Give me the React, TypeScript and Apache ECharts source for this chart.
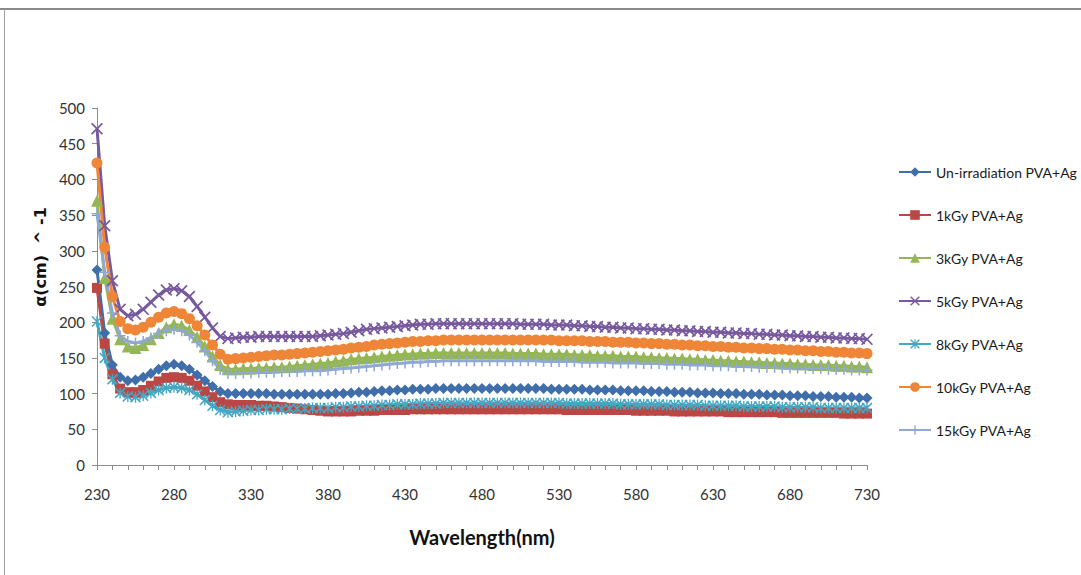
import React, { useEffect, useRef } from "react";
import * as echarts from "echarts";

const wavelengths = [
  230, 235, 240, 245, 250, 255, 260, 265, 270, 275,
  280, 285, 290, 295, 300, 305, 310, 315, 320, 325,
  330, 335, 340, 345, 350, 355, 360, 365, 370, 375,
  380, 385, 390, 395, 400, 405, 410, 415, 420, 425,
  430, 435, 440, 445, 450, 455, 460, 465, 470, 475,
  480, 485, 490, 495, 500, 505, 510, 515, 520, 525,
  530, 535, 540, 545, 550, 555, 560, 565, 570, 575,
  580, 585, 590, 595, 600, 605, 610, 615, 620, 625,
  630, 635, 640, 645, 650, 655, 660, 665, 670, 675,
  680, 685, 690, 695, 700, 705, 710, 715, 720, 725,
  730,
];

const unIrradiation = [
  273, 185, 140, 123, 118, 119, 123, 128, 134, 139,
  141, 139, 134, 126, 118, 110, 103, 100, 100, 100,
  100, 100, 100, 99, 99, 99, 99, 99, 99, 99,
  99, 100, 100, 101, 102, 102, 103, 104, 104, 105,
  105, 106, 106, 106, 107, 107, 107, 107, 107, 107,
  107, 107, 107, 107, 107, 107, 107, 107, 107, 106,
  106, 106, 106, 106, 105, 105, 105, 105, 104, 104,
  104, 104, 103, 103, 103, 102, 102, 102, 101, 101,
  101, 100, 100, 100, 99, 99, 99, 98, 98, 98,
  97, 97, 97, 96, 96, 96, 95, 95, 95, 94,
  94,
];

const kGy1 = [
  248, 170, 127, 107, 102, 102, 105, 111, 117, 122,
  123, 122, 118, 111, 103, 95, 88, 85, 84, 84,
  84, 83, 83, 82, 81, 80, 79, 78, 77, 76,
  75, 75, 75, 75, 76, 76, 76, 77, 77, 77,
  77, 78, 78, 78, 78, 78, 78, 78, 78, 78,
  78, 78, 78, 78, 78, 78, 78, 78, 78, 78,
  78, 77, 77, 77, 77, 77, 77, 77, 77, 77,
  76, 76, 76, 76, 76, 75, 75, 75, 75, 75,
  75, 75, 74, 74, 74, 74, 74, 74, 74, 73,
  73, 73, 73, 73, 73, 73, 73, 72, 72, 72,
  72,
];

const kGy3 = [
  370, 262, 205, 176, 166, 164, 168, 176, 185, 193,
  197, 195, 189, 179, 166, 152, 140, 134, 134, 135,
  135, 136, 136, 137, 137, 138, 139, 140, 141, 142,
  143, 145, 146, 148, 149, 150, 151, 152, 153, 154,
  155, 155, 156, 156, 157, 157, 157, 157, 157, 157,
  157, 157, 157, 157, 156, 156, 156, 156, 155, 155,
  155, 155, 154, 154, 154, 153, 153, 153, 152, 152,
  152, 151, 151, 150, 150, 149, 149, 148, 148, 147,
  147, 146, 146, 145, 145, 144, 144, 143, 143, 142,
  142, 141, 141, 140, 140, 140, 139, 139, 138, 138,
  137,
];

const kGy5 = [
  471, 335, 258, 218, 209, 211, 218, 228, 238, 245,
  247, 244, 236, 222, 207, 192, 180, 177, 178, 179,
  179, 180, 180, 180, 180, 180, 180, 180, 180, 181,
  182, 183, 184, 186, 188, 190, 191, 192, 193, 194,
  195, 196, 197, 197, 198, 198, 198, 198, 198, 198,
  198, 198, 198, 198, 198, 197, 197, 197, 197, 196,
  196, 196, 195, 195, 194, 194, 193, 193, 192, 192,
  191, 191, 190, 190, 189, 189, 188, 188, 187, 187,
  186, 186, 185, 185, 184, 184, 183, 183, 182, 182,
  181, 181, 180, 180, 179, 179, 178, 178, 177, 177,
  176,
];

const kGy8 = [
  201, 150, 120, 101, 96, 95, 97, 101, 105, 108,
  109, 108, 105, 99, 91, 83, 77, 74, 75, 76,
  77, 77, 78, 78, 78, 79, 79, 79, 80, 80,
  80, 81, 81, 82, 82, 83, 83, 84, 84, 85,
  85, 85, 86, 86, 86, 87, 87, 87, 87, 87,
  87, 87, 87, 87, 87, 87, 87, 87, 87, 87,
  87, 86, 86, 86, 86, 86, 86, 86, 85, 85,
  85, 85, 85, 85, 84, 84, 84, 84, 84, 83,
  83, 83, 83, 83, 82, 82, 82, 82, 82, 81,
  81, 81, 81, 81, 80, 80, 80, 80, 80, 80,
  80,
];

const kGy10 = [
  423, 305, 236, 201, 191, 189, 193, 200, 207, 213,
  215, 212, 205, 195, 182, 168, 155, 148, 149, 150,
  151, 152, 153, 154, 154, 155, 156, 157, 158, 159,
  160, 161, 162, 164, 165, 166, 168, 169, 170, 171,
  172, 173, 173, 174, 174, 175, 175, 175, 175, 175,
  175, 175, 175, 175, 175, 175, 175, 175, 175, 175,
  174, 174, 174, 174, 173, 173, 173, 172, 172, 172,
  171, 171, 170, 170, 169, 169, 168, 168, 167, 167,
  166, 166, 165, 165, 164, 164, 163, 163, 162, 162,
  161, 161, 160, 160, 159, 159, 158, 158, 157, 157,
  156,
];

const kGy15 = [
  352, 270, 213, 181, 173, 171, 173, 178, 184, 188,
  190, 188, 182, 172, 160, 146, 134, 128, 128, 129,
  129, 130, 130, 130, 131, 131, 131, 132, 132, 132,
  133, 134, 135, 136, 137, 138, 139, 140, 141, 142,
  143, 144, 144, 145, 145, 146, 146, 146, 146, 146,
  146, 146, 146, 146, 146, 146, 146, 146, 145, 145,
  145, 145, 145, 144, 144, 144, 144, 143, 143, 143,
  143, 142, 142, 142, 141, 141, 141, 140, 140, 140,
  139, 139, 139, 138, 138, 138, 137, 137, 137, 136,
  136, 136, 135, 135, 135, 134, 134, 134, 133, 133,
  133,
];

const seriesNames = [
  "Un-irradiation PVA+Ag",
  "1kGy PVA+Ag",
  "3kGy PVA+Ag",
  "5kGy PVA+Ag",
  "8kGy PVA+Ag",
  "10kGy PVA+Ag",
  "15kGy PVA+Ag",
];

const xSymbol = "path://M0,1 L1,0 L5,4 L9,0 L10,1 L6,5 L10,9 L9,10 L5,6 L1,10 L0,9 L4,5 Z";
const starSymbol =
  "path://M0,1 L1,0 L5,4 L9,0 L10,1 L6,5 L10,9 L9,10 L5,6 L1,10 L0,9 L4,5 Z M4.4,0 L5.6,0 L5.6,10 L4.4,10 Z";
const plusSymbol = "path://M4.3,0 L5.7,0 L5.7,4.3 L10,4.3 L10,5.7 L5.7,5.7 L5.7,10 L4.3,10 L4.3,5.7 L0,5.7 L0,4.3 L4.3,4.3 Z";

const FONT = "Lato, 'Liberation Sans', sans-serif";

export default function App() {
  const ref = useRef<HTMLDivElement>(null);

  useEffect(() => {
    if (!ref.current) return;
    const chart = echarts.init(ref.current, undefined, { renderer: "svg" });

    const values = [unIrradiation, kGy1, kGy3, kGy5, kGy8, kGy10, kGy15];
    const colors = ["#3F6EAA", "#BB4744", "#95B753", "#77599D", "#44A8C3", "#EF8537", "#90A8D4"];
    const symbols = ["diamond", "rect", "triangle", xSymbol, starSymbol, "circle", plusSymbol];
    const sizes = [11, 10, 12, 12, 11, 11, 11];

    chart.setOption({
      animation: false,
      backgroundColor: "#ffffff",
      textStyle: { fontFamily: FONT },
      grid: { left: 97, right: 214, top: 108, bottom: 110, containLabel: false },
      legend: {
        orient: "vertical",
        left: 893,
        top: 160,
        itemWidth: 32,
        itemHeight: 12,
        itemGap: 29,
        data: seriesNames,
        textStyle: { fontFamily: FONT, fontSize: 14, color: "#1a1a1a" },
      },
      xAxis: {
        type: "category",
        data: wavelengths.map(String),
        boundaryGap: false,
        axisLine: { show: true, lineStyle: { color: "#8c8c8c", width: 1 } },
        axisTick: { show: true, interval: 1, length: 5, lineStyle: { color: "#8c8c8c" } },
        axisLabel: { interval: 9, margin: 21, fontSize: 15, color: "#333", fontFamily: FONT },
        splitLine: { show: false },
      },
      yAxis: {
        type: "value",
        min: 0,
        max: 500,
        interval: 50,
        axisLine: { show: true, lineStyle: { color: "#8c8c8c", width: 1 } },
        axisTick: { show: true, length: 5, lineStyle: { color: "#8c8c8c" } },
        axisLabel: { margin: 12, fontSize: 15, color: "#333", fontFamily: FONT },
        splitLine: { show: false },
      },
      series: seriesNames.map((name, i) => ({
        name,
        type: "line",
        data: values[i],
        symbol: symbols[i],
        symbolSize: sizes[i],
        showSymbol: true,
        showAllSymbol: true,
        lineStyle: { color: colors[i], width: 3 },
        itemStyle: { color: colors[i], borderWidth: 0 },
        emphasis: { disabled: true },
      })),
      graphic: [
        {
          type: "line",
          shape: { x1: 0, y1: 9, x2: 1081, y2: 9 },
          style: { stroke: "#8a8a8a", lineWidth: 2 },
        },
        {
          type: "line",
          shape: { x1: 4.5, y1: 9, x2: 4.5, y2: 575 },
          style: { stroke: "#a0a0a0", lineWidth: 1 },
        },
        {
          type: "text",
          x: 40,
          y: 257,
          rotation: Math.PI / 2,
          style: {
            text: "α(cm)  ^ -1",
            fontFamily: "'DejaVu Sans', sans-serif",
            fontWeight: "bold",
            fontSize: 16,
            fill: "#111",
            align: "center",
            verticalAlign: "middle",
          },
        },
        {
          type: "text",
          x: 482,
          y: 537,
          style: {
            text: "Wavelength(nm)",
            fontFamily: FONT,
            fontWeight: "bold",
            fontSize: 20,
            fill: "#111",
            align: "center",
            verticalAlign: "middle",
          },
        },
      ],
    });

    return () => chart.dispose();
  }, []);

  return (
    <div
      ref={ref}
      style={{ position: "fixed", left: 0, top: 0, width: 1081, height: 575 }}
    />
  );
}
